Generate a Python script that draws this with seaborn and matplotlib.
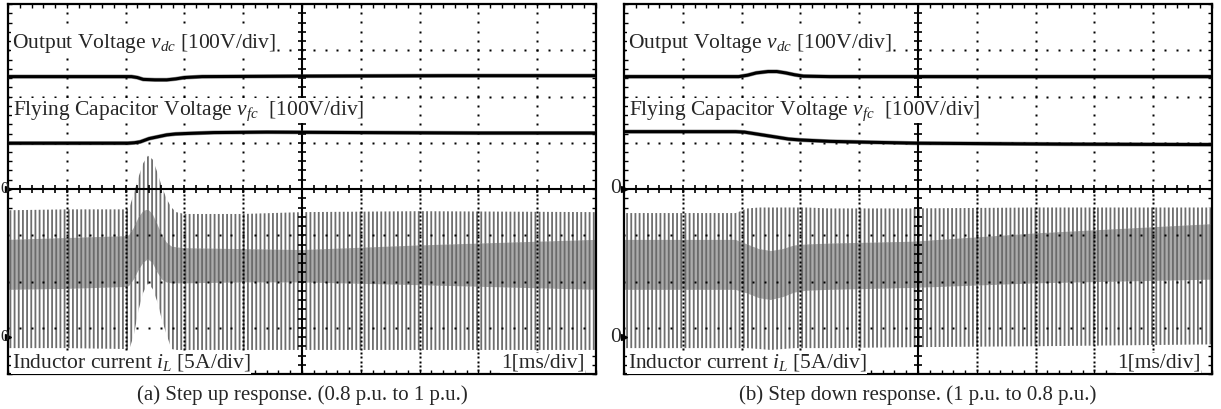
import numpy as np
import pandas as pd
import matplotlib
matplotlib.use("Agg")
import matplotlib.pyplot as plt
from matplotlib.ticker import MultipleLocator
import seaborn as sns

# ---------------------------------------------------------------------------
# Scope captures, time in ms (1 ms/div, 10 div on screen)
# ---------------------------------------------------------------------------
# (a) step up response, 0.8 p.u. -> 1 p.u.
t_vdc_a = [0, 1.0, 2.1, 2.2, 2.3, 2.5, 2.7, 2.85, 3.0, 3.3, 5.0, 7.5, 10]
vdc_a = [243, 243, 243, 241, 237, 236, 236, 238, 241, 243, 244, 245, 245]
t_vfc_a = [0, 1.0, 2.04, 2.15, 2.25, 2.4, 2.55, 2.7, 2.85, 3.04, 3.5, 4.4, 6.0, 8.0, 10]
vfc_a = [99, 99, 99, 100, 102, 109, 113, 117, 119, 120, 122, 123, 122, 121, 121]

t_il_a = [0, 1.0, 2.0, 2.06, 2.14, 2.22, 2.3, 2.38, 2.46, 2.54, 2.62, 2.7, 2.78, 2.86,
          3.0, 4.0, 5.0, 7.0, 10]
il_a_max = [13.7, 13.8, 13.8, 13.9, 15.5, 17.3, 18.8, 19.6, 19.2, 17.8, 16.2, 14.9, 14.0,
            13.5, 13.3, 13.3, 13.5, 13.6, 13.5]
il_a_min = [-1.2, -1.2, -1.3, -1.4, 0.2, 2.9, 4.8, 5.8, 5.2, 3.8, 1.8, 0.2, -1.3,
            -1.4, -1.4, -1.4, -1.4, -1.4, -1.4]
il_a_band_hi = [10.5, 10.7, 10.9, 11.0, 11.8, 12.9, 13.6, 13.8, 13.3, 12.2, 11.0, 10.2, 9.8,
                9.7, 9.6, 9.5, 9.4, 9.9, 10.5]
il_a_band_lo = [5.1, 5.2, 5.4, 5.5, 6.2, 7.2, 8.0, 8.4, 8.0, 7.0, 6.2, 5.9, 5.8,
                5.8, 5.8, 5.9, 5.9, 5.6, 5.1]

# (b) step down response, 1 p.u. -> 0.8 p.u.
t_vdc_b = [0, 1.0, 1.95, 2.1, 2.25, 2.45, 2.6, 2.75, 2.9, 3.05, 3.5, 5.0, 7.5, 10]
vdc_b = [243, 243, 243, 246, 251, 254, 254, 251, 247, 244, 243, 243, 243, 243]
t_vfc_b = [0, 1.0, 1.9, 2.05, 2.2, 2.4, 2.6, 2.8, 3.0, 3.5, 4.2, 5.0, 7.5, 10]
vfc_b = [124, 124, 124, 123, 120, 116, 112, 108, 106, 103, 101, 99, 97, 96]

t_il_b = [0, 1.0, 1.9, 2.1, 2.3, 2.5, 2.7, 2.9, 3.1, 3.5, 4.9, 7.0, 10]
il_b_max = [13.4, 13.4, 13.4, 13.9, 14.0, 14.0, 14.0, 14.0, 14.0, 13.9, 13.9, 14.0, 14.0]
il_b_min = [-1.2, -1.2, -1.2, -1.2, -1.3, -1.4, -1.3, -1.2, -1.2, -1.2, -1.1, -1.0, -0.8]
il_b_band_hi = [10.5, 10.5, 10.5, 10.0, 9.5, 9.3, 9.5, 9.9, 10.0, 10.1, 10.3, 11.2, 12.2]
il_b_band_lo = [5.1, 5.1, 5.1, 4.7, 4.2, 4.0, 4.3, 4.8, 5.0, 5.1, 5.3, 5.8, 6.2]

captions = ["(a) Step up response. (0.8 p.u. to 1 p.u.)",
            "(b) Step down response. (1 p.u. to 0.8 p.u.)"]

# channel scaling on the screen (div units)
V_PER_DIV, V_ZERO = 100.0, 4.0
A_PER_DIV, A_ZERO = 5.0, 0.8

sns.set_theme(style="white")
plt.rcParams["font.family"] = ["Liberation Serif", "DejaVu Serif"]
plt.rcParams["mathtext.fontset"] = "custom"
plt.rcParams["mathtext.rm"] = "Liberation Serif"
plt.rcParams["mathtext.it"] = "Liberation Serif:italic"
plt.rcParams["hatch.linewidth"] = 1.3

W, H = 1221, 409
fig = plt.figure(figsize=(W / 100, H / 100), dpi=100)
fig.patch.set_facecolor("white")


def axes_px(x0, x1, y0, y1):
    return fig.add_axes([x0 / W, 1 - y1 / H, (x1 - x0) / W, (y1 - y0) / H])


def volts(v):
    return V_ZERO + np.asarray(v, float) / V_PER_DIV


def amps(i):
    return A_ZERO + np.asarray(i, float) / A_PER_DIV


def scope_frame(ax):
    ax.set_xlim(0, 10)
    ax.set_ylim(0, 8)
    ax.set_facecolor("white")
    for s in ax.spines.values():
        s.set_color("black")
        s.set_linewidth(1.6)
        s.set_visible(True)
    ax.xaxis.set_major_locator(MultipleLocator(1))
    ax.xaxis.set_minor_locator(MultipleLocator(0.2))
    ax.yaxis.set_major_locator(MultipleLocator(1))
    ax.yaxis.set_minor_locator(MultipleLocator(0.2))
    ax.tick_params(which="both", direction="in", top=True, bottom=True, left=True,
                   right=True, length=3.2, width=1.0, color="black",
                   labelbottom=False, labelleft=False)
    ax.set_xlabel("")
    ax.set_ylabel("")

    # dotted graticule
    gx = np.arange(0, 10.001, 0.2)
    for gy in [1, 2, 3, 5, 6, 7]:
        ax.plot(gx, np.full_like(gx, gy), ls="none", marker="s", ms=1.5,
                mec="none", mfc="black", zorder=4)
    up = np.arange(4, 8.001, 0.2)
    lo = np.arange(0, 4.001, 0.09)
    for vx in [1, 2, 3, 4, 6, 7, 8, 9]:
        ax.plot(np.full_like(up, vx), up, ls="none", marker="s", ms=1.5,
                mec="none", mfc="black", zorder=4)
        ax.plot(np.full_like(lo, vx), lo, ls="none", marker="s", ms=1.5,
                mec="none", mfc="black", zorder=4)

    # centre cross with minor ticks
    ax.axhline(4, color="black", lw=1.5, zorder=4)
    ax.axvline(5, color="black", lw=1.5, zorder=4)
    tx = np.arange(0, 10.001, 0.2)
    ty = np.arange(0, 8.001, 0.2)
    ax.plot(tx, np.full_like(tx, 4.0), ls="none", marker="|", ms=6, mew=1.2,
            color="black", zorder=4)
    ax.plot(np.full_like(ty, 5.0), ty, ls="none", marker="_", ms=6, mew=1.2,
            color="black", zorder=4)


def current_trace(ax, t, i_max, i_min, band_hi, band_lo):
    ax.fill_between(t, amps(i_min), amps(i_max), facecolor="white",
                    edgecolor="#6e6e6e", hatch="||||", linewidth=0, zorder=1)
    ax.fill_between(t, amps(band_lo), amps(band_hi), facecolor="#ababab",
                    edgecolor="#6a6a6a", hatch="||||", linewidth=0, zorder=1.5)


def voltage_trace(ax, t, v):
    df = pd.DataFrame({"t": t, "div": volts(v)})
    sns.lineplot(data=df, x="t", y="div", ax=ax, color="#303030", lw=3.0,
                 alpha=0.5, estimator=None, sort=False, zorder=5)
    sns.lineplot(data=df, x="t", y="div", ax=ax, color="black", lw=2.2,
                 estimator=None, sort=False, zorder=6)


label_kw = dict(fontsize=15.5, va="center", ha="left", zorder=8,
                bbox=dict(facecolor="white", edgecolor="none", pad=0.6))

panels = [
    (axes_px(8, 596, 4, 374), t_vdc_a, vdc_a, t_vfc_a, vfc_a,
     t_il_a, il_a_max, il_a_min, il_a_band_hi, il_a_band_lo, 0.3),
    (axes_px(624, 1212, 4, 374), t_vdc_b, vdc_b, t_vfc_b, vfc_b,
     t_il_b, il_b_max, il_b_min, il_b_band_hi, il_b_band_lo, 610.0),
]

for k, (ax, tv, vd, tf, vf, ti, imx, imn, bhi, blo, zero_x) in enumerate(panels):
    scope_frame(ax)
    current_trace(ax, ti, imx, imn, bhi, blo)
    voltage_trace(ax, tv, vd)
    voltage_trace(ax, tf, vf)

    ax.text(0.06, 7.14, r"Output Voltage $v_{dc}$ [100V/div]", **label_kw)
    ax.text(0.08, 5.69, r"Flying Capacitor Voltage $v_{fc}$  [100V/div]", **label_kw)
    ax.text(0.06, 0.24, r"Inductor current $i_L$ [5A/div]", **label_kw)
    ax.text(9.80, 0.24, "1[ms/div]", **{**label_kw, "ha": "right"})

    # channel zero markers
    zfs = 12 if k == 0 else 15.5
    for zy in (V_ZERO, A_ZERO):
        ax.plot([0.0], [zy], marker=">", ms=4, color="black", clip_on=False, zorder=9)
        fig.text(zero_x / W, 1 - (374 - zy * 46.25) / H, "0", fontsize=zfs,
                 ha="left", va="center")

    cx = (8 + 596) / 2 if k == 0 else (624 + 1212) / 2
    fig.text(cx / W, 1 - 395 / H, captions[k], fontsize=15, ha="center", va="center")

fig.savefig("out.png", dpi=100, facecolor="white")
